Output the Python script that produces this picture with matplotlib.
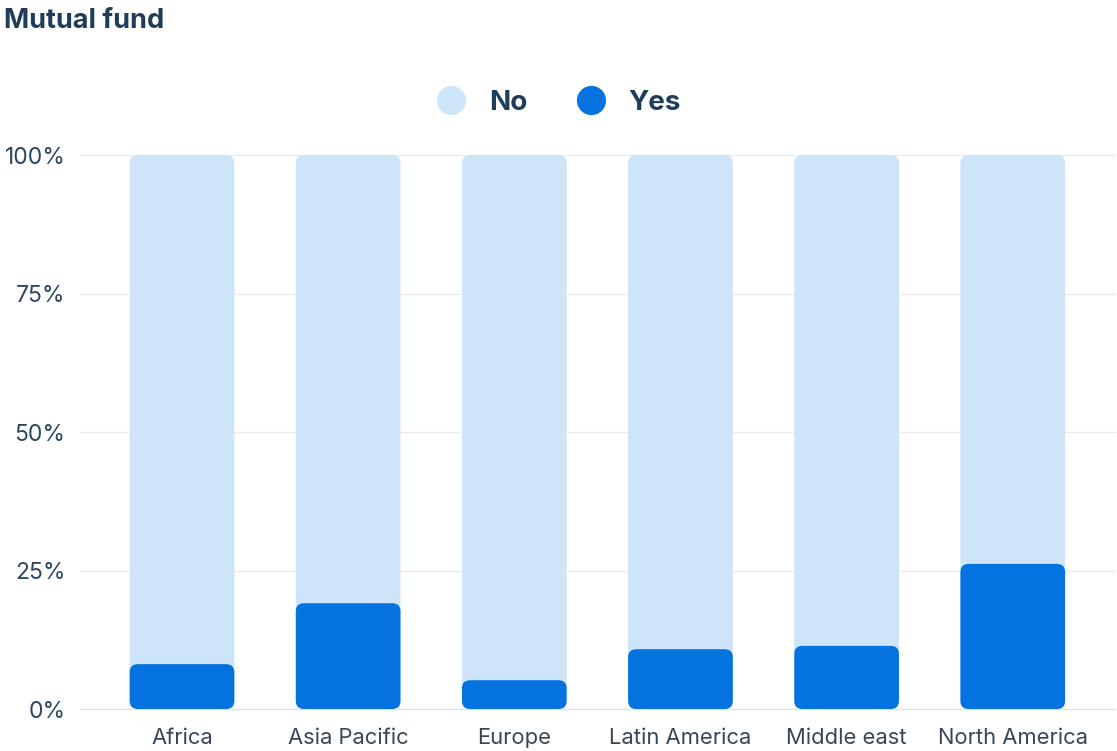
import matplotlib.pyplot as plt
from matplotlib.patches import FancyBboxPatch
from matplotlib.lines import Line2D

plt.rcParams['font.family'] = ['Inter', 'DejaVu Sans']

regions = ['Africa', 'Asia Pacific', 'Europe', 'Latin America', 'Middle east', 'North America']
yes = [8.1, 19.1, 5.2, 10.8, 11.4, 26.2]
no = [100 - v for v in yes]
yticks = [0, 25, 50, 75, 100]

c_no = '#cde4f9'
c_yes = '#0473e0'
c_text = '#1f3c58'

fig = plt.figure(figsize=(11.17, 7.51), dpi=100)
ax = fig.add_axes([0.0716, 0.0559, 0.9264, 0.7377])

width = 0.63
rad = 0.05
asp = 29.0


def rbar(x, y0, h, color):
    p = FancyBboxPatch((x - width / 2, y0), width, h,
                       boxstyle='round,pad=0,rounding_size=%f' % rad,
                       mutation_aspect=asp, fc=color, ec='none', zorder=3)
    ax.add_patch(p)


for i in range(len(regions)):
    rbar(i, 0, yes[i] + no[i], c_no)
    rbar(i, 0, yes[i], c_yes)

ax.set_xlim(-0.614, 5.614)
ax.set_ylim(0, 100)
ax.set_xticks(range(len(regions)))
ax.set_xticklabels(regions, fontsize=15.8, color='#3a4753')
ax.set_yticks(yticks)
ax.set_yticklabels(['%d%%' % t for t in yticks], fontsize=16.5, color='#2d4660')
ax.tick_params(axis='y', length=0, pad=10.5)
ax.tick_params(axis='x', length=0, pad=14)
for t in yticks:
    ax.axhline(t, color='#e9ecef' if t else '#dfe3e7', lw=1, zorder=1, clip_on=False)
for s in ax.spines.values():
    s.set_visible(False)

fig.text(0.004, 0.99, 'Mutual fund', fontsize=19.5, fontweight='bold',
         color=c_text, va='top', ha='left')

handles = [Line2D([], [], ls='none', marker='o', ms=21, mfc=c_no, mec='none'),
           Line2D([], [], ls='none', marker='o', ms=21, mfc=c_yes, mec='none')]
fig.legend(handles, ['No', 'Yes'], loc='center', bbox_to_anchor=(0.4995, 0.863),
           ncol=2, frameon=False, handletextpad=0.75, handlelength=1.2,
           columnspacing=1.7, labelcolor=c_text, prop={'weight': 'bold', 'size': 20})

fig.savefig('out.png', dpi=100)
